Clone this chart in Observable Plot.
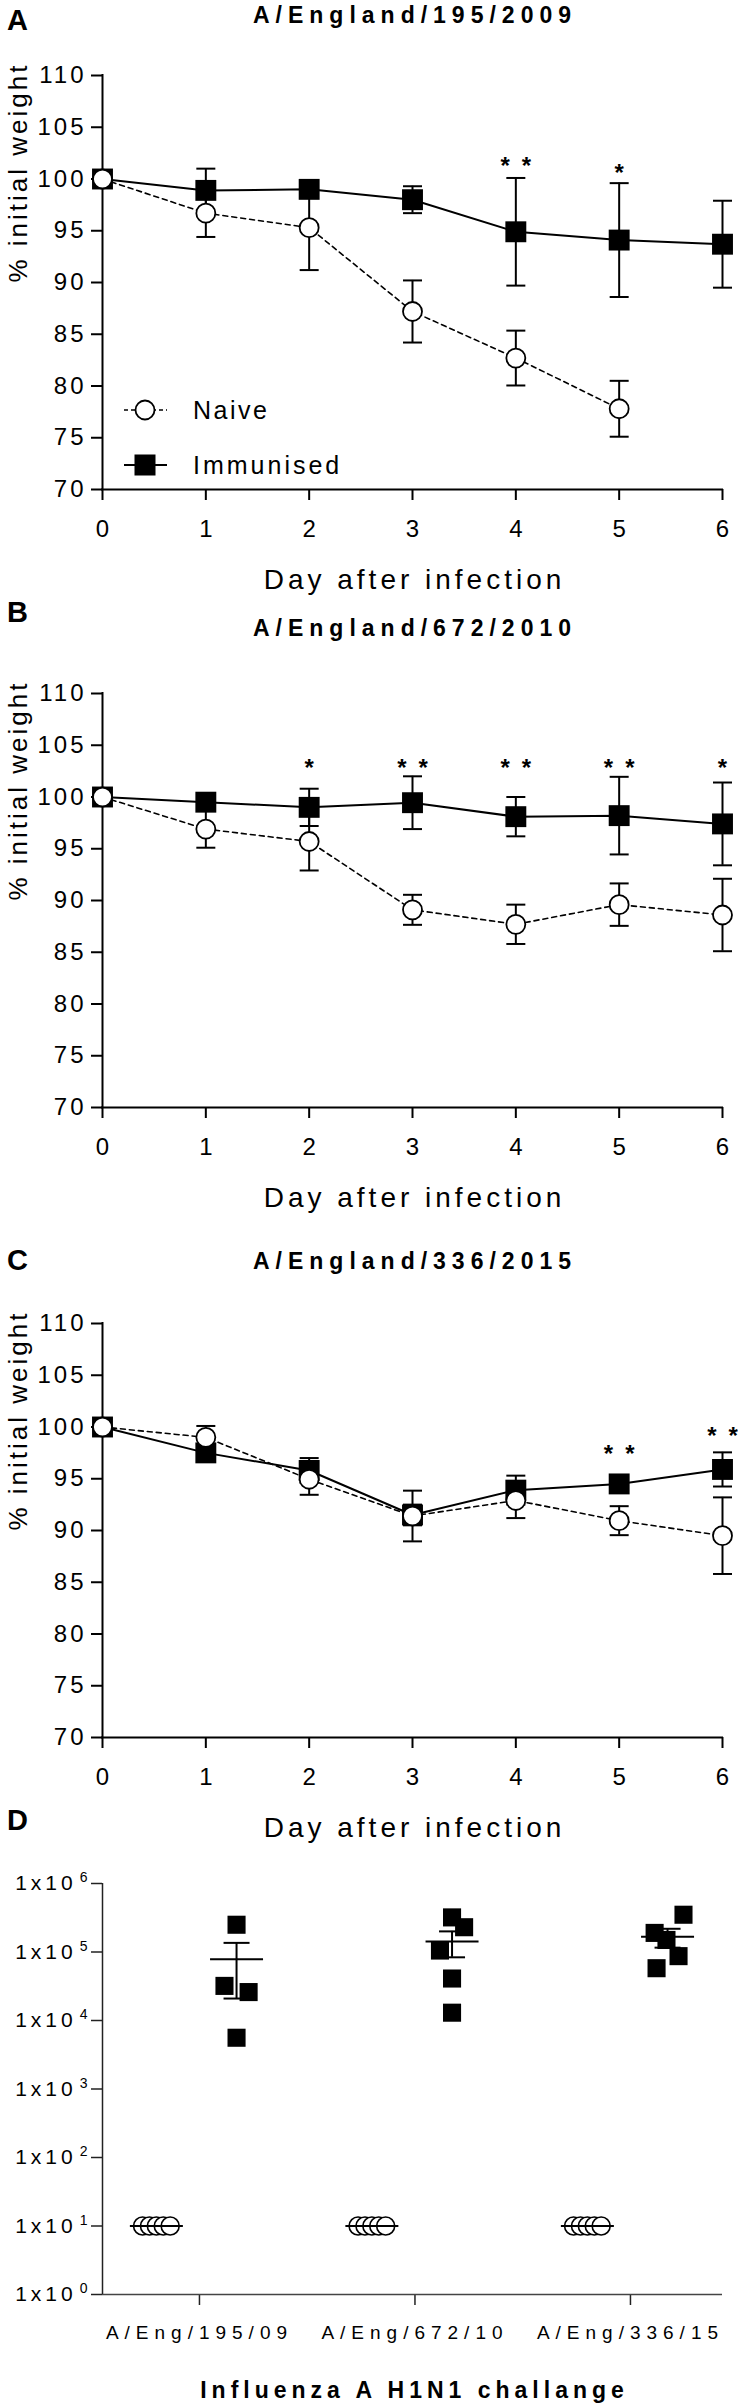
<!DOCTYPE html>
<html><head><meta charset="utf-8">
<script src="https://cdn.jsdelivr.net/npm/d3@7"></script>
<script src="https://cdn.jsdelivr.net/npm/@observablehq/plot@0.6"></script>
<style>
body{margin:0;background:#fff;}
#page{position:relative;width:738px;height:2407px;overflow:hidden;font-family:"Liberation Sans",Arial,sans-serif;color:#000;background:#fff;}
.abs{position:absolute;white-space:nowrap;}
.letter{font-weight:bold;font-size:29px;line-height:29px;left:7px;}
.title{font-weight:bold;font-size:23px;line-height:23px;letter-spacing:6px;text-align:center;left:102px;width:620px;padding-left:6px;box-sizing:border-box;}
.plotbox{position:absolute;left:0;}
</style>
</head><body>
<div id="page"></div>
<script>
// ---------- data ----------
const days = [0, 1, 2, 3, 4, 5, 6];
const dayTicks = [0, 1, 2, 3, 4, 5, 6];
const weightTicks = [70, 75, 80, 85, 90, 95, 100, 105, 110];

// Panel A: A/England/195/2009
const naiveA    = [100, 96.7, 95.3, 87.2, 82.7, 77.8, null];
const naiveErrA = [0, 2.3, 4.1, 3.0, 2.65, 2.7, null];
const immA      = [100, 98.9, 99.0, 98.0, 94.9, 94.1, 93.7];
const immErrA   = [0.5, 2.1, 0.8, 1.3, 5.2, 5.5, 4.2];
const starsA    = ["", "", "", "", "* *", "*", ""];
const starLvlA  = [null, null, null, null, 101.8, 101.2, null];

// Panel B: A/England/672/2010
const naiveB    = [100, 96.9, 95.7, 89.1, 87.7, 89.6, 88.6];
const naiveErrB = [0, 1.8, 2.8, 1.45, 1.9, 2.05, 3.5];
const immB      = [100, 99.5, 99.0, 99.45, 98.1, 98.2, 97.4];
const immErrB   = [0.5, 0.5, 1.8, 2.55, 1.9, 3.75, 4.0];
const starsB    = ["", "", "*", "* *", "* *", "* *", "*"];
const starLvlB  = [null, null, 103.4, 103.4, 103.4, 103.4, 103.4];

// Panel C: A/England/336/2015
const naiveC    = [100, 99.0, 94.95, 91.4, 92.9, 90.95, 89.5];
const naiveErrC = [0, 1.1, 1.5, 2.45, 1.7, 1.4, 3.7];
const immC      = [100, 97.5, 95.8, 91.5, 93.9, 94.5, 95.9];
const immErrC   = [0.5, 0.6, 1.2, 1.0, 1.4, 0.5, 1.65];
const starsC    = ["", "", "", "", "", "* *", "* *"];
const starLvlC  = [null, null, null, null, null, 98.0, 99.7];

// Panel D: antibody titres
const groupsD = ["A/Eng/195/09", "A/Eng/672/10", "A/Eng/336/15"];
const naiveD = [[10, 10, 10, 10, 10], [10, 10, 10, 10, 10], [10, 10, 10, 10, 10]];
const naiveJitterD = [[-0.064, -0.032, 0, 0.032, 0.064], [-0.064, -0.032, 0, 0.032, 0.064], [-0.064, -0.032, 0, 0.032, 0.064]];
const immD = [[2.5e5, 3.2e4, 2.6e4, 5.6e3], [3.2e5, 2.3e5, 1.05e5, 4.1e4, 1.3e4], [3.5e5, 1.9e5, 1.5e5, 8.7e4, 5.8e4]];
const immJitterD = [[0, -0.056, 0.056, 0], [0, 0.056, -0.056, 0, 0], [0.074, -0.06, -0.005, 0.051, -0.051]];
const titreTicks = [1, 10, 100, 1000, 10000, 100000, 1000000];

// ---------- helpers ----------
const FONT = '"Liberation Sans", Arial, sans-serif';
const page = document.getElementById("page");
function addDiv(cls, text, top) {
  const d = document.createElement("div");
  d.className = "abs " + cls;
  d.style.top = top + "px";
  d.textContent = text;
  page.appendChild(d);
  return d;
}
function hline(half) {
  return {draw(ctx) { ctx.moveTo(-half, 0); ctx.lineTo(half, 0); }};
}
function styleTexts(svg, test, attrs) {
  d3.select(svg).selectAll("text").filter(function() { return test(this.textContent); })
    .each(function() { const s = d3.select(this); for (const k in attrs) s.attr(k, attrs[k]); });
}
const cap = hline(9.5);

function weightPanel(naive, naiveErr, imm, immErr, stars, starLvl) {
  const N = days.map((d, i) => ({day: d, v: naive[i], e: naiveErr[i]})).filter(d => d.v != null);
  const I = days.map((d, i) => ({day: d, v: imm[i], e: immErr[i]}));
  const S = days.map((d, i) => ({day: d, s: stars[i], y: starLvl[i]})).filter(d => d.s);
  const svg = Plot.plot({
    width: 738, height: 541,
    marginLeft: 102, marginRight: 16, marginTop: 15, marginBottom: 112,
    style: {background: "transparent", fontFamily: FONT, color: "#000", overflow: "visible"},
    x: {domain: [0, 6]},
    y: {domain: [70, 110]},
    marks: [
      Plot.axisY({ticks: weightTicks, tickSize: 11, tickPadding: 5, fontSize: 24, strokeWidth: 2, tickFormat: d => String(d), label: null}),
      Plot.axisX({ticks: dayTicks, tickSize: 11, tickPadding: 19, fontSize: 24, strokeWidth: 2, tickFormat: d => String(d), label: null}),
      Plot.ruleY([70], {strokeWidth: 2, strokeLinecap: "square"}),
      Plot.ruleX([0], {strokeWidth: 2, strokeLinecap: "square"}),
      Plot.text(["Day after infection"], {text: d => d, frameAnchor: "bottom", dy: 99, dx: 2, lineAnchor: "bottom", fontSize: 28}),
      Plot.text(["% initial weight"], {text: d => d, frameAnchor: "left", rotate: -90, dx: -76, lineAnchor: "bottom", fontSize: 26}),
      // immunised error bars
      Plot.ruleX(I, {x: "day", y1: d => d.v - d.e, y2: d => d.v + d.e, strokeWidth: 2}),
      Plot.dot(I, {x: "day", y: d => d.v + d.e, symbol: cap, stroke: "black", fill: "none", strokeWidth: 2}),
      Plot.dot(I, {x: "day", y: d => d.v - d.e, symbol: cap, stroke: "black", fill: "none", strokeWidth: 2}),
      // naive error bars
      Plot.ruleX(N, {x: "day", y1: d => d.v - d.e, y2: d => d.v + d.e, strokeWidth: 2}),
      Plot.dot(N, {x: "day", y: d => d.v + d.e, symbol: cap, stroke: "black", fill: "none", strokeWidth: 2}),
      Plot.dot(N, {x: "day", y: d => d.v - d.e, symbol: cap, stroke: "black", fill: "none", strokeWidth: 2}),
      // lines
      Plot.line(I, {x: "day", y: "v", stroke: "black", strokeWidth: 2}),
      Plot.line(N, {x: "day", y: "v", stroke: "black", strokeWidth: 1.6, strokeDasharray: "5,4"}),
      // markers
      Plot.dot(I, {x: "day", y: "v", symbol: "square", r: 11.8, fill: "black", stroke: "none"}),
      Plot.dot(N, {x: "day", y: "v", r: 9.5, fill: "white", stroke: "black", strokeWidth: 1.8}),
      // significance
      Plot.text(S, {x: "day", y: "y", text: d => d.s.replace(" ", "\u2002"), fontSize: 24, fontWeight: "bold", lineAnchor: "bottom", dy: 14})
    ]
  });
  styleTexts(svg, t => t === "Day after infection", {"letter-spacing": 4});
  styleTexts(svg, t => t === "% initial weight", {"letter-spacing": 3});
  styleTexts(svg, t => /^\d\d+$/.test(t), {"letter-spacing": 3});
  return svg;
}

function placePlot(svg, top) {
  const box = document.createElement("div");
  box.className = "plotbox";
  box.style.top = top + "px";
  box.appendChild(svg);
  page.appendChild(box);
  return svg;
}

// ---------- Panel A ----------
const svgA = placePlot(weightPanel(naiveA, naiveErrA, immA, immErrA, starsA, starLvlA), 60);
{
  const lg = d3.select(svgA).append("g").attr("font-family", FONT).attr("text-anchor", "start");
  lg.append("line").attr("x1", 124).attr("x2", 167).attr("y1", 350).attr("y2", 350)
    .attr("stroke", "black").attr("stroke-width", 1.6).attr("stroke-dasharray", "4,3");
  lg.append("circle").attr("cx", 145).attr("cy", 350).attr("r", 9.5)
    .attr("fill", "white").attr("stroke", "black").attr("stroke-width", 1.8);
  lg.append("text").attr("x", 193).attr("y", 359).attr("font-size", 25).attr("letter-spacing", 2.5)
    .attr("text-anchor", "start").attr("fill", "black").text("Naive");
  lg.append("line").attr("x1", 124).attr("x2", 167).attr("y1", 405).attr("y2", 405)
    .attr("stroke", "black").attr("stroke-width", 2);
  lg.append("rect").attr("x", 134.5).attr("y", 394.5).attr("width", 21).attr("height", 21).attr("fill", "black");
  lg.append("text").attr("x", 193).attr("y", 414).attr("font-size", 25).attr("letter-spacing", 3)
    .attr("text-anchor", "start").attr("fill", "black").text("Immunised");
}
addDiv("letter", "A", 6);
addDiv("title", "A/England/195/2009", 4);

// ---------- Panel B ----------
placePlot(weightPanel(naiveB, naiveErrB, immB, immErrB, starsB, starLvlB), 678);
addDiv("letter", "B", 598);
addDiv("title", "A/England/672/2010", 617);

// ---------- Panel C ----------
placePlot(weightPanel(naiveC, naiveErrC, immC, immErrC, starsC, starLvlC), 1308);
addDiv("letter", "C", 1246);
addDiv("title", "A/England/336/2015", 1250);

// ---------- Panel D ----------
{
  const side = 0.186;
  const xDom = [0.564, 3.441];
  const naivePts = [], immPts = [], stats = [];
  groupsD.forEach((g, gi) => {
    naiveD[gi].forEach((v, j) => naivePts.push({x: gi + 1 - side + naiveJitterD[gi][j], v}));
    immD[gi].forEach((v, j) => immPts.push({x: gi + 1 + side + immJitterD[gi][j], v}));
    for (const [vals, s] of [[naiveD[gi], -side], [immD[gi], side]]) {
      const m = d3.mean(vals);
      const sem = d3.deviation(vals) / Math.sqrt(vals.length);
      stats.push({x: gi + 1 + s, m, lo: m - sem, hi: m + sem});
    }
  });
  const meanLine = hline(26.5), semCap = hline(13);
  const svgD = Plot.plot({
    width: 738, height: 538,
    marginLeft: 102, marginRight: 16, marginTop: 15, marginBottom: 112,
    style: {background: "transparent", fontFamily: FONT, color: "#000", overflow: "visible"},
    x: {domain: xDom},
    y: {type: "log", domain: [1, 1e6]},
    marks: [
      Plot.axisY({ticks: titreTicks, tickSize: 11, tickPadding: 4, fontSize: 21, strokeWidth: 1.5, stroke: "#222",
        tickFormat: d => "1x10^" + Math.round(Math.log10(d)), label: null}),
      Plot.axisX({ticks: [1, 2, 3], tickSize: 11, tickPadding: 20, fontSize: 19, strokeWidth: 1.5, stroke: "#222", dx: 3,
        tickFormat: d => groupsD[d - 1], label: null}),
      Plot.ruleY([1], {stroke: "#444", strokeWidth: 1.5}),
      Plot.ruleX([xDom[0]], {stroke: "#222", strokeWidth: 1.5}),
      Plot.text(["Influenza A H1N1 challange"], {text: d => d, frameAnchor: "bottom", dy: 103, dx: 2, lineAnchor: "bottom", fontSize: 23, fontWeight: "bold"}),
      Plot.dot(immPts, {x: "x", y: "v", symbol: "square", r: 10.2, fill: "black", stroke: "none"}),
      Plot.dot(naivePts, {x: "x", y: "v", r: 9, fill: "white", stroke: "black", strokeWidth: 1.6}),
      Plot.ruleX(stats, {x: "x", y1: "lo", y2: "hi", strokeWidth: 2, filter: d => d.hi > d.lo}),
      Plot.dot(stats, {x: "x", y: "hi", symbol: semCap, stroke: "black", fill: "none", strokeWidth: 2}),
      Plot.dot(stats, {x: "x", y: "lo", symbol: semCap, stroke: "black", fill: "none", strokeWidth: 2}),
      Plot.dot(stats, {x: "x", y: "m", symbol: meanLine, stroke: "black", fill: "none", strokeWidth: 2})
    ]
  });
  placePlot(svgD, 1868);
  styleTexts(svgD, t => t === "Influenza A H1N1 challange", {"letter-spacing": 5});
  styleTexts(svgD, t => t.startsWith("A/Eng/"), {"letter-spacing": 6});
  // superscript exponents on the log-axis tick labels
  d3.select(svgD).selectAll("text").filter(function() { return this.textContent.startsWith("1x10^"); }).each(function() {
    const t = d3.select(this);
    const [base, exp] = this.textContent.split("^");
    t.text(null);
    t.append("tspan").attr("letter-spacing", 4).text(base);
    t.append("tspan").attr("dx", 3).attr("dy", -8).attr("font-size", 14).text(exp);
  });
  addDiv("letter", "D", 1806);
}
</script>
</body></html>
